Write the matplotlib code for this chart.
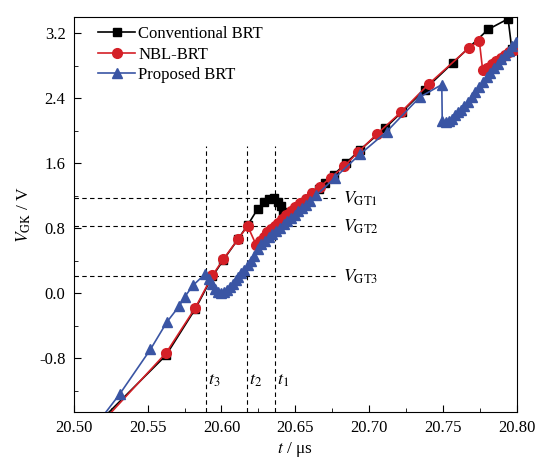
import numpy as np
import matplotlib
matplotlib.use('Agg')
import matplotlib.pyplot as plt
from matplotlib.ticker import MultipleLocator

plt.rcParams['font.family'] = 'Liberation Serif'
plt.rcParams['mathtext.fontset'] = 'stix'

# Conventional BRT
t_conv = [20.519, 20.5625, 20.5823, 20.5939, 20.6012, 20.6113, 20.6177, 20.6245,
          20.6285, 20.6325, 20.6355, 20.6385, 20.6405, 20.6415, 20.643, 20.646,
          20.650, 20.654, 20.658, 20.662, 20.666, 20.670, 20.676, 20.684, 20.694,
          20.7105, 20.722, 20.7376, 20.7568, 20.7806, 20.7941, 20.7966, 20.805]
v_conv = [-1.55, -0.76, -0.19, 0.21, 0.41, 0.67, 0.84, 1.04,
          1.12, 1.16, 1.17, 1.13, 1.07, 1.00, 0.94, 0.96,
          1.02, 1.09, 1.16, 1.23, 1.29, 1.36, 1.46, 1.60, 1.77,
          2.03, 2.23, 2.51, 2.84, 3.25, 3.38, 3.01, 3.15]

# NBL-BRT
t_nbl = [20.521, 20.5626, 20.5823, 20.5939, 20.6012, 20.6113, 20.6177, 20.6234,
         20.626, 20.6285, 20.631, 20.6335, 20.636, 20.6385, 20.641, 20.644,
         20.647, 20.650, 20.6535, 20.657, 20.6615, 20.6664, 20.6739, 20.683,
         20.6925, 20.705, 20.7215, 20.7405, 20.7674, 20.7746, 20.7769, 20.780,
         20.783, 20.786, 20.789, 20.792, 20.795, 20.798, 20.801]
v_nbl = [-1.55, -0.73, -0.176, 0.222, 0.42, 0.67, 0.83, 0.60,
         0.65, 0.70, 0.75, 0.79, 0.83, 0.87, 0.91, 0.96,
         1.01, 1.06, 1.11, 1.16, 1.23, 1.31, 1.424, 1.563,
         1.739, 1.957, 2.23, 2.58, 3.02, 3.11, 2.745, 2.78,
         2.82, 2.86, 2.90, 2.94, 2.97, 3.00, 3.04]

# Proposed BRT
t_prop = [20.518, 20.5313, 20.5519, 20.563, 20.5712, 20.575, 20.5807, 20.5886,
          20.5914, 20.5935, 20.5955, 20.5975, 20.5995, 20.6015, 20.6035, 20.6055,
          20.6075, 20.6095, 20.6115, 20.6135, 20.6155, 20.6177, 20.620, 20.6222,
          20.6245, 20.627, 20.6295, 20.632, 20.6345, 20.637, 20.6395, 20.642,
          20.6445, 20.647, 20.6495, 20.652, 20.6545, 20.657, 20.660, 20.6641,
          20.6766, 20.6936, 20.7118, 20.7343, 20.7492, 20.7495, 20.7520, 20.7540,
          20.7560, 20.7580, 20.7600, 20.7620, 20.7645, 20.767, 20.7695, 20.772,
          20.7745, 20.777, 20.7795, 20.782, 20.7845, 20.787, 20.7895, 20.792,
          20.7945, 20.797, 20.7995, 20.802]
v_prop = [-1.55, -1.234, -0.689, -0.353, -0.16, -0.045, 0.098, 0.234,
          0.18, 0.11, 0.05, 0.02, 0.01, 0.02, 0.045, 0.08,
          0.12, 0.16, 0.20, 0.245, 0.29, 0.345, 0.40, 0.46,
          0.55, 0.61, 0.65, 0.69, 0.73, 0.77, 0.81, 0.85,
          0.89, 0.93, 0.97, 1.01, 1.05, 1.09, 1.14, 1.206,
          1.42, 1.71, 1.99, 2.416, 2.57, 2.12, 2.11, 2.12,
          2.15, 2.19, 2.23, 2.26, 2.31, 2.36, 2.42, 2.48,
          2.54, 2.60, 2.66, 2.71, 2.77, 2.82, 2.88, 2.93,
          2.99, 3.04, 3.10, 3.15]

# threshold markers
t_marks = [20.636, 20.6172, 20.5893]
t_names = ['$t_1$', '$t_2$', '$t_3$']
vgt = [1.17, 0.825, 0.21]
vgt_names = ['$V_{\\mathrm{GT1}}$', '$V_{\\mathrm{GT2}}$', '$V_{\\mathrm{GT3}}$']

red = '#d42027'
blue = '#3a55a4'

fig = plt.figure(figsize=(5.35, 4.65), dpi=100)
ax = fig.add_axes([0.138, 0.114, 0.828, 0.849])

for tm in t_marks:
    ax.plot([tm, tm], [-1.46, 1.82], ls=(0, (4, 3)), color='k', lw=0.8, zorder=1)
for v in vgt:
    ax.plot([20.5, 20.678], [v, v], ls=(0, (4, 3)), color='k', lw=0.8, zorder=1)

ax.plot(t_conv, v_conv, '-s', color='k', ms=6, lw=1.2, label='Conventional BRT', zorder=2)
ax.plot(t_nbl, v_nbl, '-o', color=red, ms=7, lw=1.2, label='NBL-BRT', zorder=3)
ax.plot(t_prop, v_prop, '-^', color=blue, ms=7.5, lw=1.2, label='Proposed BRT', zorder=4)

for tm, nm in zip(t_marks, t_names):
    ax.text(tm + 0.0015, -1.07, nm, fontsize=13, va='center', ha='left')
for v, nm in zip(vgt, vgt_names):
    ax.text(20.682, v, nm, fontsize=13, va='center', ha='left')

ax.set_xlim(20.50, 20.80)
ax.set_ylim(-1.46, 3.4)
ax.xaxis.set_major_locator(MultipleLocator(0.05))
ax.xaxis.set_minor_locator(MultipleLocator(0.025))
ax.yaxis.set_major_locator(MultipleLocator(0.8))
ax.yaxis.set_minor_locator(MultipleLocator(0.4))
ax.xaxis.set_major_formatter(plt.FormatStrFormatter('%.2f'))
ax.yaxis.set_major_formatter(plt.FormatStrFormatter('%.1f'))
ax.tick_params(which='both', direction='in', top=False, right=False, labelsize=12)
ax.tick_params(which='major', length=5, pad=6)
ax.tick_params(which='minor', length=3)

ax.set_xlabel('$t$ / μs', fontsize=12.5, labelpad=3)
ax.set_ylabel('$V_{\\mathrm{GK}}$ / V', fontsize=12.5, labelpad=4)

ax.legend(loc='upper left', bbox_to_anchor=(0.055, 0.978), frameon=False, fontsize=12,
          handlelength=2.2, borderaxespad=0, borderpad=0, labelspacing=0.28,
          handletextpad=0.2)

fig.savefig('out.png', dpi=100)
